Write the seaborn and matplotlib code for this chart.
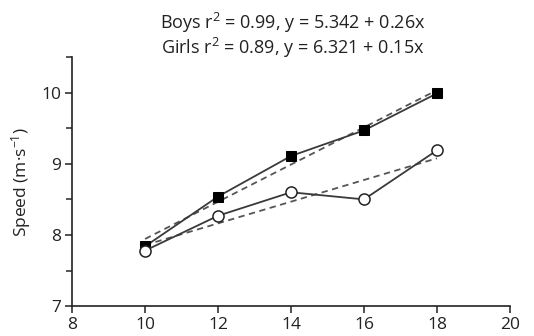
import matplotlib
matplotlib.use("Agg")
import matplotlib.pyplot as plt
import seaborn as sns
import pandas as pd
from matplotlib.ticker import MultipleLocator

age = [10, 12, 14, 16, 18]
boys = [7.84, 8.54, 9.11, 9.47, 9.99]
girls = [7.78, 8.27, 8.60, 8.50, 9.19]

sns.set_theme(style="ticks")
plt.rcParams['font.family'] = ['Open Sans', 'DejaVu Sans']
plt.rcParams['mathtext.fontset'] = 'custom'
plt.rcParams['mathtext.rm'] = 'Open Sans'
plt.rcParams['mathtext.it'] = 'Open Sans:italic'

df_b = pd.DataFrame({"age": age, "speed": boys})
df_g = pd.DataFrame({"age": age, "speed": girls})

fig = plt.figure(figsize=(5.34, 3.36), dpi=100)
ax = fig.add_axes([0.135, 0.089, 0.82, 0.741])

line_col = "#3a3a3a"
sns.regplot(data=df_b, x="age", y="speed", ax=ax, ci=None, scatter=False,
            line_kws=dict(color="#555555", ls=(0, (3.5, 2.5)), lw=1.3))
sns.regplot(data=df_g, x="age", y="speed", ax=ax, ci=None, scatter=False,
            line_kws=dict(color="#555555", ls=(0, (3.5, 2.5)), lw=1.3))
sns.lineplot(data=df_b, x="age", y="speed", ax=ax, color=line_col, lw=1.3,
             marker="s", markersize=7, markerfacecolor="black", markeredgecolor="black")
sns.lineplot(data=df_g, x="age", y="speed", ax=ax, color=line_col, lw=1.3,
             marker="o", markersize=8, markerfacecolor="white", markeredgecolor="#222222",
             markeredgewidth=1.1)

ax.set_xlim(8, 20)
ax.set_ylim(7, 10.5)
ax.xaxis.set_major_locator(MultipleLocator(2))
ax.yaxis.set_major_locator(MultipleLocator(1))
ax.yaxis.set_minor_locator(MultipleLocator(0.5))
ax.tick_params(which="major", length=5, width=1.1, labelsize=12.5, colors="#222222", pad=3)
ax.tick_params(which="minor", length=4, width=1.1)
ax.set_xlabel("")
ax.set_ylabel("Speed (m·s$^{-1}$)", fontsize=12.5, color="#222222", labelpad=6)
sns.despine(ax=ax)
for s in ("left", "bottom"):
    ax.spines[s].set_linewidth(1.2)
    ax.spines[s].set_color("#222222")
ax.spines["left"].set_bounds(7, 10.5)

fig.text(0.548, 0.933, "Boys r$^2$ = 0.99, y = 5.342 + 0.26x", ha="center", va="center",
         fontsize=13, color="#222222")
fig.text(0.548, 0.858, "Girls r$^2$ = 0.89, y = 6.321 + 0.15x", ha="center", va="center",
         fontsize=13, color="#222222")

fig.savefig("out.png", dpi=100)
